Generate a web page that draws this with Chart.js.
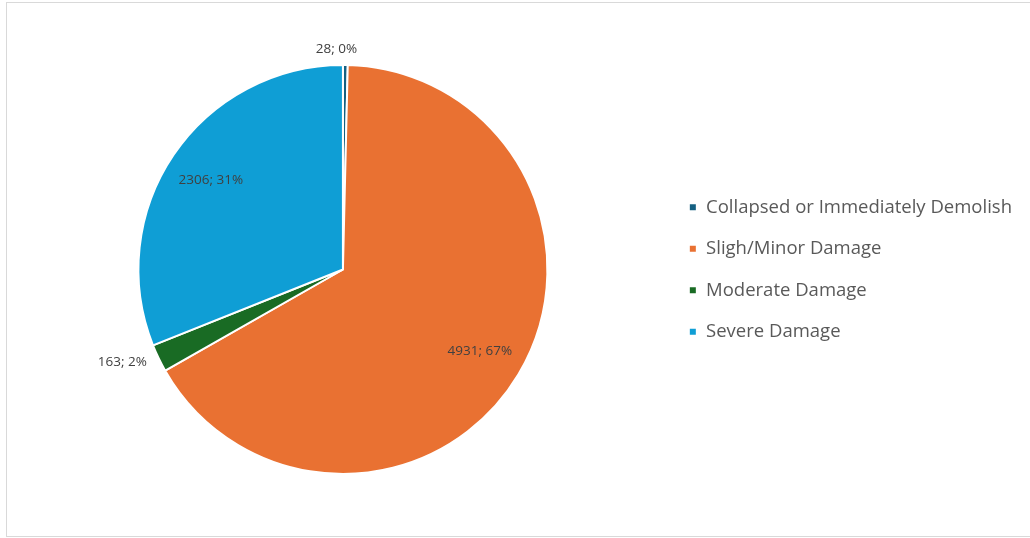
<!DOCTYPE html>
<html>
<head>
<meta charset="utf-8">
<script src="https://cdn.jsdelivr.net/npm/chart.js@4"></script>
<style>
  html, body { margin: 0; padding: 0; background: #fff; }
  #wrap { position: relative; width: 1030px; height: 538px; overflow: hidden; }
  #frame { position: absolute; left: 6px; top: 2px; width: 1030px; height: 535px; border: 1px solid #d9d9d9; box-sizing: border-box; }
  canvas { position: absolute; left: 0; top: 0; }
</style>
</head>
<body>
<div id="wrap">
  <div id="frame"></div>
  <canvas id="grafico" width="1030" height="538"></canvas>
</div>
<script>
// dados do gráfico
const categorias = ['Collapsed or Immediately Demolish', 'Sligh/Minor Damage', 'Moderate Damage', 'Severe Damage'];
const valores = [28, 4931, 163, 2306];
const percentuais = [0, 67, 2, 31];
const cores = ['#156082', '#e97132', '#196b24', '#0f9ed5'];
// rótulo fora da fatia?
const rotuloFora = [true, false, true, false];

// plugin para desenhar "valor; pct%"
const rotulos = {
  id: 'rotulos',
  afterDatasetsDraw(chart) {
    const ctx = chart.ctx;
    const meta = chart.getDatasetMeta(0);
    ctx.save();
    ctx.font = '13.5px "Open Sans"';
    ctx.fillStyle = '#404040';
    ctx.textBaseline = 'middle';
    meta.data.forEach((arc, i) => {
      const meio = (arc.startAngle + arc.endAngle) / 2;
      const texto = valores[i] + '; ' + percentuais[i] + '%';
      let d, x, y;
      if (rotuloFora[i]) {
        d = arc.outerRadius + 13;
        x = arc.x + Math.cos(meio) * d;
        y = arc.y + Math.sin(meio) * d;
        if (Math.abs(Math.cos(meio)) < 0.2) {
          ctx.textAlign = 'center';
          x -= 9;
          y -= 3;
        } else {
          ctx.textAlign = Math.cos(meio) < 0 ? 'right' : 'left';
          y -= 2;
        }
      } else {
        d = arc.outerRadius * 0.78;
        x = arc.x + Math.cos(meio) * d;
        y = arc.y + Math.sin(meio) * d;
        ctx.textAlign = 'center';
      }
      ctx.fillText(texto, x, y);
    });
    ctx.restore();
  }
};

new Chart(document.getElementById('grafico'), {
  type: 'pie',
  data: {
    labels: categorias,
    datasets: [{
      data: valores,
      backgroundColor: cores,
      borderColor: '#ffffff',
      borderWidth: 2
    }]
  },
  options: {
    responsive: false,
    animation: false,
    layout: { padding: { top: 64, bottom: 63, left: 20, right: 8 } },
    plugins: {
      tooltip: { enabled: false },
      legend: {
        position: 'right',
        labels: {
          boxWidth: 8,
          boxHeight: 8,
          padding: 23,
          color: '#595959',
          font: { family: 'Open Sans', size: 18.5 }
        }
      }
    }
  },
  plugins: [rotulos]
});
</script>
</body>
</html>
